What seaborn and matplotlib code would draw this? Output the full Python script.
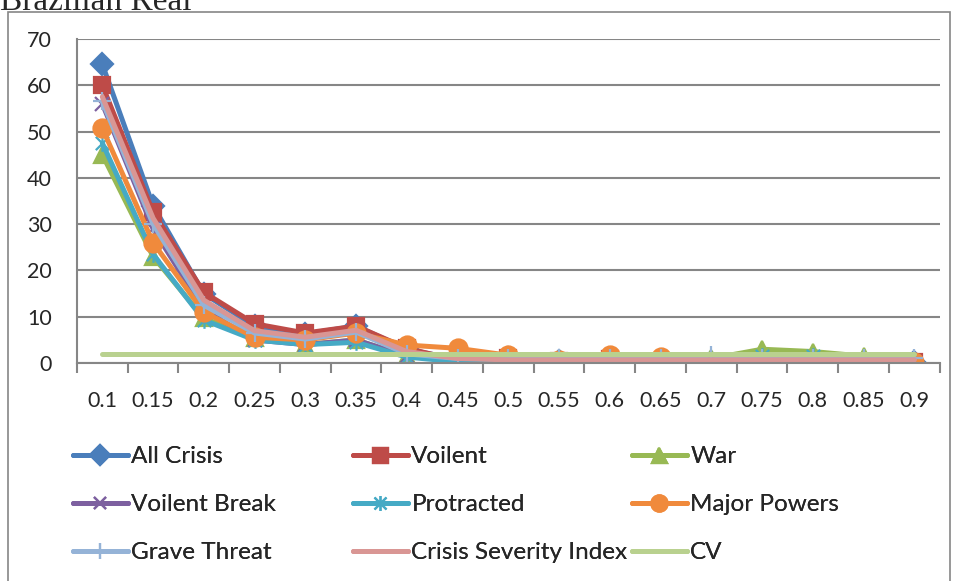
import matplotlib
matplotlib.use("Agg")
import matplotlib.pyplot as plt
import seaborn as sns
import pandas as pd
from matplotlib.path import Path
from matplotlib.patches import Rectangle

# data
thresholds = [0.1, 0.15, 0.2, 0.25, 0.3, 0.35, 0.4, 0.45, 0.5, 0.55, 0.6, 0.65, 0.7, 0.75, 0.8, 0.85, 0.9]
tick_labels = ['0.1', '0.15', '0.2', '0.25', '0.3', '0.35', '0.4', '0.45', '0.5', '0.55', '0.6',
               '0.65', '0.7', '0.75', '0.8', '0.85', '0.9']

all_crisis = [64.5, 34, 15, 8, 6.3, 8, 3, 0.8, 1, 0.5, 0.8, 0.4, 0.2, 0.3, 0.3, 0.3, 0.2]
voilent = [60, 32.6, 15.3, 8.5, 6.5, 8, 3.2, 0.6, 1, 0.4, 0.8, 0.3, 0.2, 0.3, 0.3, 0.3, 0.2]
war = [45, 23, 9.7, 5.5, 4, 5, 1.5, 0.5, 1, 0.5, 1, 0.5, 1, 3, 2.5, 1.5, 0.5]
voilent_break = [56, 29, 11.5, 5, 4, 5, 1.5, 0.5, 1, 0.4, 0.8, 0.3, 0.2, 0.2, 0.2, 0.2, 0.2]
protracted = [47.5, 23.5, 9.3, 5, 4, 4.5, 1.3, 0.3, 1, 0.5, 1, 0.5, 0.3, 1.5, 1.5, 0.5, 0.3]
major_powers = [50.7, 26, 11, 5.6, 5, 6.5, 3.9, 3.2, 1.7, 0.7, 1.7, 1.3, 0.2, 0.2, 0.3, 0.3, 0.3]
grave_threat = [56.5, 30, 12.5, 6.5, 5.2, 6.7, 2, 1, 1, 1, 1, 1, 1.7, 1, 1, 1, 1]
crisis_severity = [57.5, 31.3, 13.6, 7, 5.6, 7.1, 2.5, 1, 0.7, 0.7, 0.7, 0.7, 0.7, 0.7, 0.7, 0.7, 0.7]
cv = [1.9, 1.9, 1.9, 1.9, 1.9, 1.9, 1.9, 1.9, 1.9, 1.9, 1.9, 1.9, 1.9, 1.9, 1.9, 1.9, 1.9]

series_names = ['All Crisis', 'Voilent', 'War', 'Voilent Break', 'Protracted', 'Major Powers',
                'Grave Threat', 'Crisis Severity Index', 'CV']
series_values = [all_crisis, voilent, war, voilent_break, protracted, major_powers,
                 grave_threat, crisis_severity, cv]

# excel style asterisk marker
star = Path([(-1, -1), (1, 1), (-1, 1), (1, -1), (0, -1.25), (0, 1.25)],
            [Path.MOVETO, Path.LINETO, Path.MOVETO, Path.LINETO, Path.MOVETO, Path.LINETO])

styles = {
    'All Crisis': dict(color='#4A7EBB', marker='D', ms=11),
    'Voilent': dict(color='#BE4B48', marker='s', ms=12),
    'War': dict(color='#98B954', marker='^', ms=12),
    'Voilent Break': dict(color='#7D60A0', marker='x', ms=10),
    'Protracted': dict(color='#46AAC5', marker=star, ms=12),
    'Major Powers': dict(color='#F08A3C', marker='o', ms=13),
    'Grave Threat': dict(color='#95B3D7', marker='+', ms=13),
    'Crisis Severity Index': dict(color='#D99694', marker=None, ms=0),
    'CV': dict(color='#B9D18F', marker=None, ms=0),
}

df = pd.DataFrame({'threshold': thresholds})
for name, vals in zip(series_names, series_values):
    df[name] = vals

sns.set_style('white')
plt.rcParams['font.family'] = ['Lato', 'DejaVu Sans']

fig = plt.figure(figsize=(9.56, 5.81), dpi=100)
ax = fig.add_axes([0.0805, 0.375, 0.9025, 0.558])

for name in series_names:
    st = styles[name]
    sns.lineplot(data=df, x='threshold', y=name, ax=ax, color=st['color'], marker=st['marker'],
                 markersize=st['ms'], markeredgecolor=st['color'], markeredgewidth=1.6,
                 linewidth=3.6, label=name, sort=False, errorbar=None, legend=False,
                 solid_capstyle='round')

ax.set_xlim(0.075, 0.925)
ax.set_ylim(0, 70)
ax.set_yticks(range(0, 71, 10))
ax.set_xticks(thresholds)
ax.set_xticklabels(tick_labels)
ax.set_xticks([0.075 + 0.05 * k for k in range(18)], minor=True)
ax.set_xlabel('')
ax.set_ylabel('')

ax.grid(axis='y', color='#868686', linewidth=1.5)
ax.set_axisbelow(True)
for side in ['top', 'right']:
    ax.spines[side].set_visible(False)
for side in ['left', 'bottom']:
    ax.spines[side].set_color('#868686')
    ax.spines[side].set_linewidth(1.5)
ax.tick_params(axis='y', which='major', length=7, width=1.5, color='#868686', pad=11, labelsize=15.5)
ax.tick_params(axis='x', which='major', length=0, pad=20, labelsize=15.5)
ax.tick_params(axis='x', which='minor', length=7, width=1.5, color='#868686', bottom=True)

# legend: three separate columns, row-wise order like Excel
handles, labels = ax.get_legend_handles_labels()
col_x = [73 / 956, 353 / 956, 632 / 956]
for c in range(3):
    idx = [c, c + 3, c + 6]
    leg = fig.legend([handles[i] for i in idx], [labels[i] for i in idx],
                     loc='upper left', bbox_to_anchor=(col_x[c], 1 - 446 / 581),
                     frameon=False, fontsize=17.5, handlelength=2.25, handletextpad=0.15,
                     labelspacing=1.12, borderpad=0, borderaxespad=0, markerscale=0.9)
    fig.add_artist(leg)

# chart area border and clipped title
fig.patches.append(Rectangle((8 / 956, -0.1), 942 / 956, 1.1 - 12 / 581, transform=fig.transFigure,
                             fill=False, edgecolor='#868686', linewidth=1.2))
fig.text(0.0, 1 - 10 / 581, 'Brazilian Real', family='Liberation Serif', fontsize=24, va='baseline')

fig.savefig('out.png', dpi=100)
